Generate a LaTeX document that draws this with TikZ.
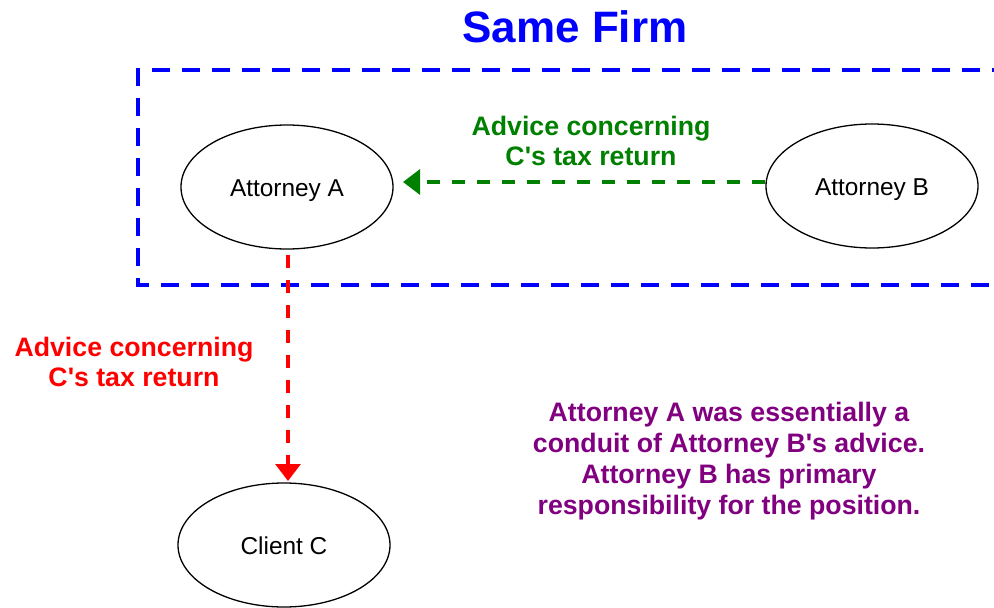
\documentclass[tikz,border=0pt]{standalone}
\usepackage{fontspec}
\setmainfont{Liberation Sans}
\usetikzlibrary{arrows.meta,shapes.geometric}
\definecolor{cgreen}{RGB}{0,128,0}
\definecolor{cpurple}{RGB}{128,0,128}
\definecolor{cblue}{RGB}{0,0,255}
\definecolor{cred}{RGB}{255,0,0}
\tikzset{
  person/.style={draw=black, line width=1.3pt, ellipse, minimum width=212pt, minimum height=124pt, inner sep=0pt, text height=18pt, text depth=0pt, font=\fontsize{24.4}{28}\selectfont},
  lbl/.style={align=center, font=\bfseries\fontsize{26.7}{30.5}\selectfont},
  advarrow/.style={line width=3.2pt, dash pattern=on 13pt off 12pt, -{Triangle[length=17pt,width=25pt]}},
}
\begin{document}
\begin{tikzpicture}[x=1pt,y=-1pt]
\useasboundingbox (0,0) rectangle (994,608);
\draw[cblue, line width=4pt, dash pattern=on 18pt off 12pt] (1010,70) -- (138,70) -- (138,285) -- (1010,285);
\node[font=\bfseries\fontsize{44}{50}\selectfont, text=cblue] (title) at (575,27) {Same Firm};
\node[person] (A) at (287,187) {Attorney A};
\node[person] (B) at (872,186) {Attorney B};
\node[person] (C) at (284,545) {Client C};
\coordinate (bstart) at (B.west |- 0,182);
\coordinate (aend) at (403,182);
\coordinate (rstart) at (288,255);
\coordinate (rend) at (288,481);
\draw[advarrow, cgreen] (bstart) -- (aend);
\draw[advarrow, cred] (rstart) -- (rend);
\node[lbl, text=cgreen] (gl) at (591,141) {Advice concerning\\C\textquotesingle s tax return};
\node[lbl, text=cred] (rl) at (134,362) {Advice concerning\\C\textquotesingle s tax return};
\node[lbl, text=cpurple, font=\bfseries\fontsize{26.7}{31}\selectfont] (note) at (729,461) {Attorney A was essentially a\\conduit of Attorney B\textquotesingle s advice.\\Attorney B has primary\\responsibility for the position.};
\end{tikzpicture}
\end{document}
